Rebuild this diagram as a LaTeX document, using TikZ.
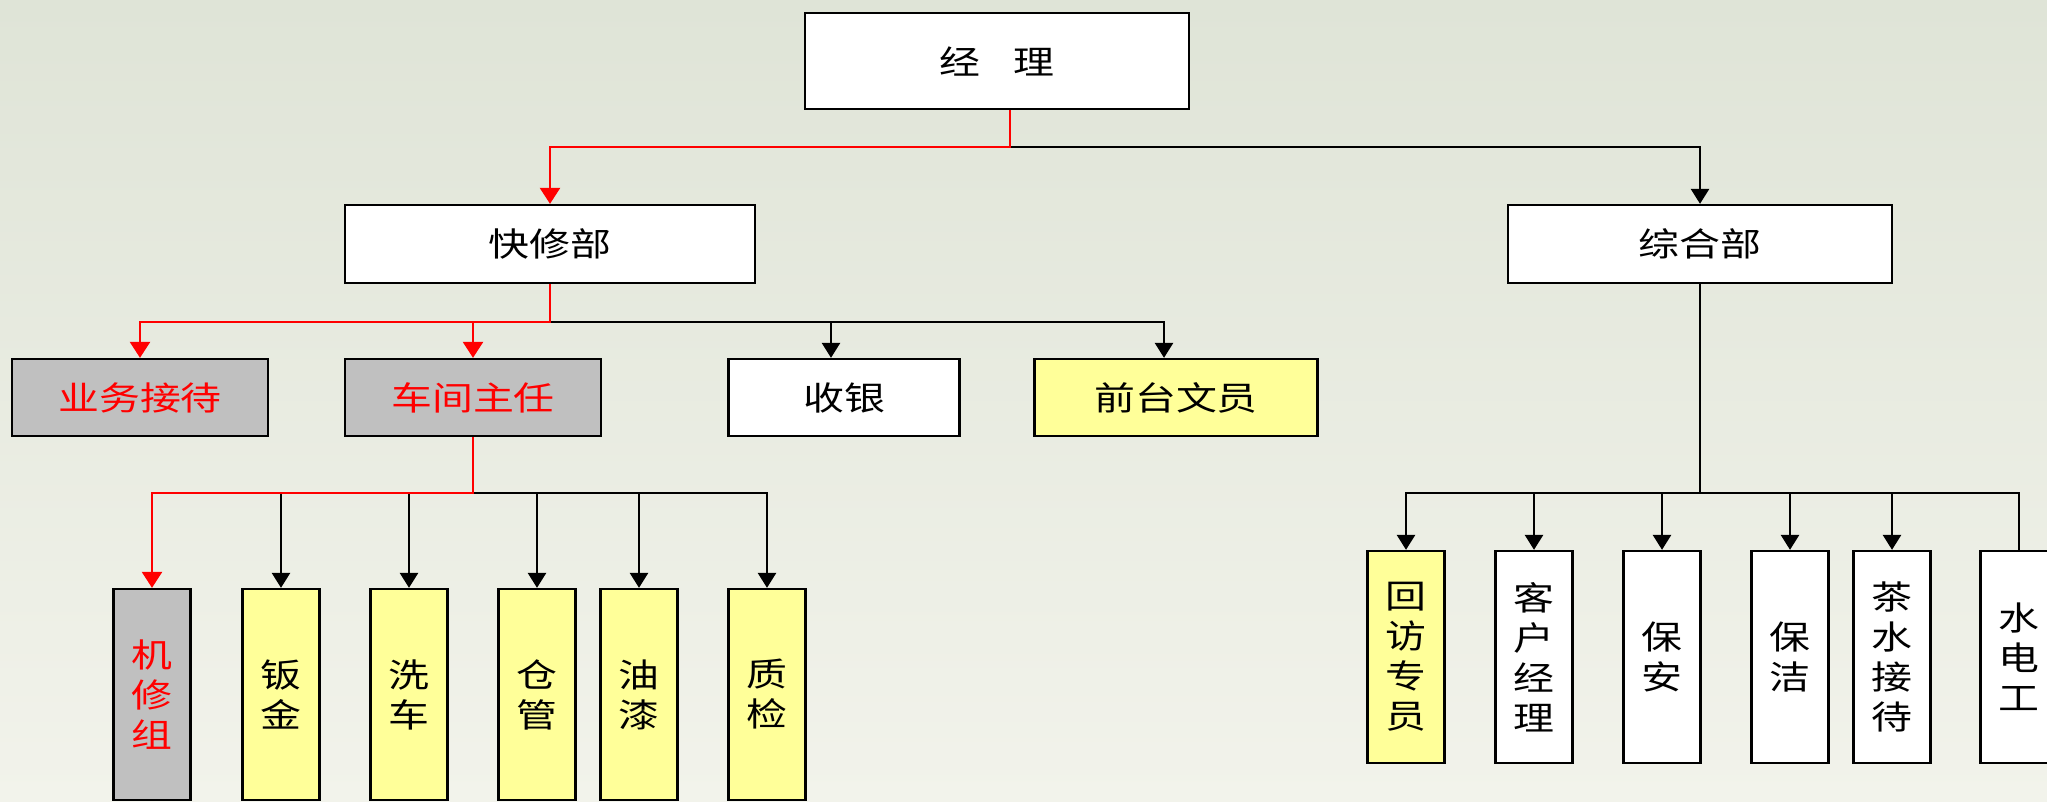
\documentclass[tikz,border=0pt]{standalone}
\usepackage{fontspec}
\newfontfamily\cjk[FakeStretch=1.24]{Noto Sans CJK SC}
\usetikzlibrary{arrows.meta}
\definecolor{bgtop}{RGB}{223,228,215}
\definecolor{bgbot}{RGB}{242,243,235}
\definecolor{yel}{RGB}{255,255,153}
\definecolor{gry}{RGB}{192,192,192}
\definecolor{rd}{RGB}{255,0,0}
\tikzset{
  box/.style={draw=black, line width=2.3pt, inner sep=0pt, align=center,
    font=\cjk\fontsize{33}{40}\selectfont},
  hbox/.style={box, minimum height=77pt},
  vbox/.style={box, minimum width=77pt},
  plain/.style={fill=white},
  yellowbox/.style={fill=yel},
  graybox/.style={fill=gry, text=rd},
  bline/.style={draw=black, line width=2.7pt},
  rline/.style={draw=rd, line width=2.5pt},
  barr/.style={-{Triangle[length=15pt,width=18pt]}},
  rarr/.style={-{Triangle[length=16pt,width=20pt]}},
}
\begin{document}
\begin{tikzpicture}[x=1pt,y=-1pt]
\useasboundingbox (0,0) rectangle (2047,801);
\shade[top color=bgtop, bottom color=bgbot] (0,0) rectangle (2047,801);
\clip (0,0) rectangle (2047,801);

% level 0
\node[box, plain, minimum width=384pt, minimum height=96pt] (jl) at (997,61) {经\quad 理};
% level 1
\node[box, plain, minimum width=410pt, minimum height=78pt] (kxb) at (550,244) {快修部};
\node[box, plain, minimum width=384pt, minimum height=78pt] (zhb) at (1700,244) {综合部};
% level 2
\node[hbox, graybox, minimum width=256pt] (ywjd) at (140,397.5) {业务接待};
\node[hbox, graybox, minimum width=256pt] (cjzr) at (473,397.5) {车间主任};
\node[hbox, plain, minimum width=231pt] (sy) at (844,397.5) {收银};
\node[hbox, yellowbox, minimum width=283pt] (qtwy) at (1176,397.5) {前台文员};
% level 3 left
\node[vbox, graybox, minimum height=211pt] (jxz) at (152,694.5) {机\\修\\组};
\node[vbox, yellowbox, minimum height=211pt] (bj) at (281,694.5) {钣\\金};
\node[vbox, yellowbox, minimum height=211pt] (xc) at (409,694.5) {洗\\车};
\node[vbox, yellowbox, minimum height=211pt] (cg) at (537,694.5) {仓\\管};
\node[vbox, yellowbox, minimum height=211pt] (yq) at (639,694.5) {油\\漆};
\node[vbox, yellowbox, minimum height=211pt] (zj) at (767,694.5) {质\\检};
% level 3 right
\node[vbox, yellowbox, minimum height=212pt] (hf) at (1406,657) {回\\访\\专\\员};
\node[vbox, plain, minimum height=212pt] (kh) at (1534,657) {客\\户\\经\\理};
\node[vbox, plain, minimum height=212pt] (ba) at (1662,657) {保\\安};
\node[vbox, plain, minimum height=212pt] (bjie) at (1790,657) {保\\洁};
\node[vbox, plain, minimum height=212pt] (cs) at (1892,657) {茶\\水\\接\\待};
\node[vbox, plain, minimum height=212pt] (sd) at (2019,657) {水\\电\\工};

% connectors from 经理
\coordinate (m1) at (1010,147);
\draw[bline, barr] (m1) -| (zhb.north);
\draw[rline, rarr] (jl.south -| m1) -- (m1) -| (kxb.north);

% connectors from 快修部
\coordinate (k1) at (550,322);
\coordinate (syt) at ([xshift=-13pt]sy.north);
\coordinate (qtt) at ([xshift=-12pt]qtwy.north);
\draw[bline, barr] (k1) -| (qtt);
\draw[bline, barr] (k1 -| syt) -- (syt);
\draw[rline, rarr] (kxb.south) -- (k1) -| (ywjd.north);
\draw[rline, rarr] (k1 -| cjzr.north) -- (cjzr.north);

% connectors from 车间主任
\coordinate (c1) at (473,493);
\draw[bline, barr] (c1) -| (zj.north);
\draw[bline, barr] (c1 -| cg.north) -- (cg.north);
\draw[bline, barr] (c1 -| yq.north) -- (yq.north);
\draw[bline, barr] (c1 -| bj.north) -- (bj.north);
\draw[bline, barr] (c1 -| xc.north) -- (xc.north);
\draw[rline, rarr] (cjzr.south) -- (c1) -| (jxz.north);

% connectors from 综合部
\coordinate (z1) at (1700,493);
\draw[bline] (zhb.south) -- (z1);
\draw[bline, barr] (z1) -| (hf.north);
\draw[bline] (z1) -| (sd.north);
\draw[bline, barr] (z1 -| kh.north) -- (kh.north);
\draw[bline, barr] (z1 -| ba.north) -- (ba.north);
\draw[bline, barr] (z1 -| bjie.north) -- (bjie.north);
\draw[bline, barr] (z1 -| cs.north) -- (cs.north);
\end{tikzpicture}
\end{document}
